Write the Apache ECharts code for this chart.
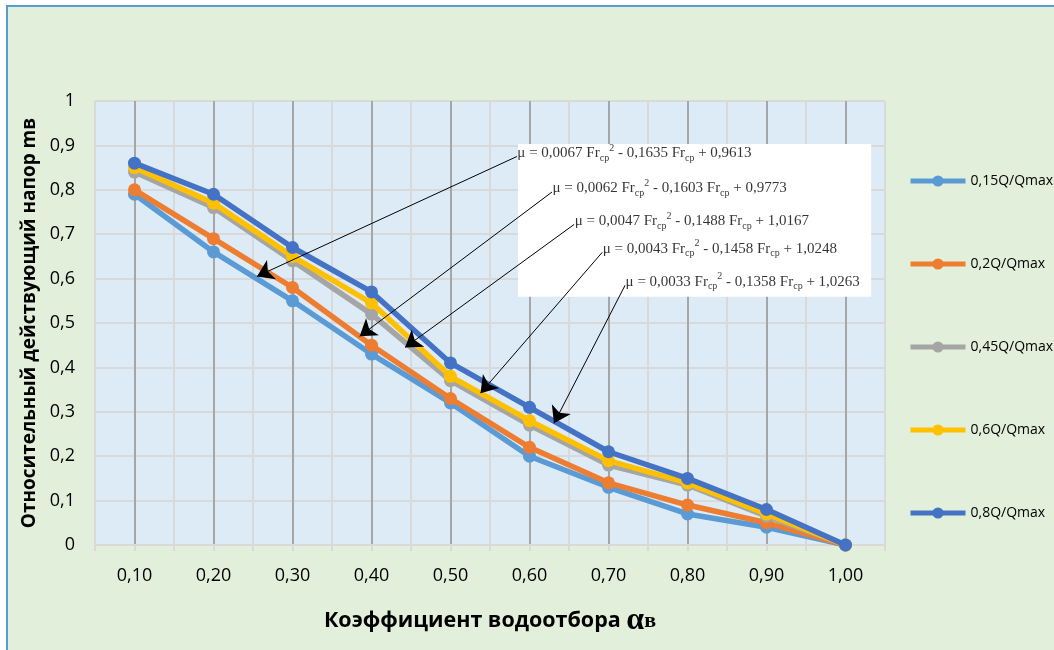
<!DOCTYPE html>
<html>
<head>
<meta charset="utf-8">
<script src="https://cdn.jsdelivr.net/npm/echarts@6/dist/echarts.min.js"></script>
<style>
  html, body { margin: 0; padding: 0; background: #ffffff; }
  #frame { position: absolute; left: 6px; top: 5px; width: 1060px; height: 660px;
           background: #E2EFDA; border-left: 2px solid #5B9BD5; border-top: 2px solid #5B9BD5; }
  #chart { position: absolute; left: 0; top: 0; width: 1054px; height: 650px; }
</style>
</head>
<body>
<div id="frame"></div>
<div id="chart"></div>
<script>
// ---- data ----
const categories = ['0,10', '0,20', '0,30', '0,40', '0,50', '0,60', '0,70', '0,80', '0,90', '1,00'];
const seriesNames = ['0,15Q/Qmax', '0,2Q/Qmax', '0,45Q/Qmax', '0,6Q/Qmax', '0,8Q/Qmax'];
const s015 = [0.79, 0.66, 0.55, 0.43, 0.32, 0.20, 0.13, 0.07, 0.04, 0];
const s02  = [0.80, 0.69, 0.58, 0.45, 0.33, 0.22, 0.14, 0.09, 0.05, 0];
const s045 = [0.84, 0.76, 0.64, 0.52, 0.37, 0.27, 0.18, 0.135, 0.065, 0];
const s06  = [0.85, 0.77, 0.65, 0.545, 0.38, 0.28, 0.19, 0.14, 0.07, 0];
const s08  = [0.86, 0.79, 0.67, 0.57, 0.41, 0.31, 0.21, 0.15, 0.08, 0];
const colors = ['#5B9BD5', '#ED7D31', '#A5A5A5', '#FFC000', '#4472C4'];
const yTicks = ['0', '0,1', '0,2', '0,3', '0,4', '0,5', '0,6', '0,7', '0,8', '0,9', '1'];

// trend-line equations (coefficients as printed)
const eqA = ['0,0067', '0,0062', '0,0047', '0,0043', '0,0033'];
const eqB = ['0,1635', '0,1603', '0,1488', '0,1458', '0,1358'];
const eqC = ['0,9613', '0,9773', '1,0167', '1,0248', '1,0263'];
// annotation anchors on a helper axis (0..20 = half-category units) and value axis
const eqTextPos = [[10.68, 0.883], [11.57, 0.803], [12.13, 0.730], [12.84, 0.667], [13.42, 0.593]];
const arrowTips = [[4.10, 0.605], [6.70, 0.470], [7.85, 0.445], [9.76, 0.342], [11.62, 0.274]];
const eqBox = [[10.71, 0.903], [19.65, 0.559]];

const allSeries = [s015, s02, s045, s06, s08];

const chart = echarts.init(document.getElementById('chart'), null, { renderer: 'canvas' });

const lineSeries = allSeries.map((d, i) => ({
  name: seriesNames[i],
  type: 'line',
  xAxisIndex: 0,
  yAxisIndex: 0,
  data: d,
  symbol: 'circle',
  symbolSize: 13,
  lineStyle: { width: 5.5, color: colors[i] },
  itemStyle: { color: colors[i] },
  z: 3 + i
}));

const eqData = eqTextPos.map((p, i) => ({
  value: p,
  name: String(i)
}));

const option = {
  backgroundColor: 'transparent',
  animation: false,
  grid: {
    left: 95, right: 169, top: 101, bottom: 105,
    show: true, backgroundColor: '#DDEBF7', borderWidth: 0
  },
  legend: {
    data: seriesNames,
    orient: 'vertical',
    left: 903, top: 169,
    itemWidth: 55, itemHeight: 14, itemGap: 69,
    lineStyle: { width: 5 },
    textStyle: { fontFamily: 'Open Sans', fontSize: 14, color: '#000' }
  },
  xAxis: [
    {
      type: 'category',
      data: categories,
      boundaryGap: true,
      axisLine: { show: true, lineStyle: { color: '#D9D9D9', width: 2 } },
      axisTick: { show: false },
      splitLine: { show: false },
      axisLabel: { fontFamily: 'Open Sans', fontSize: 18, color: '#000', margin: 22 },
      name: '{a|Коэффициент водоотбора }{b|α}{c|в}',
      nameLocation: 'middle',
      nameGap: 60,
      nameTextStyle: {
        rich: {
          a: { fontFamily: 'Open Sans', fontWeight: 'bold', fontSize: 21.5, color: '#000' },
          b: { fontFamily: 'Liberation Serif', fontWeight: 'bold', fontSize: 32, color: '#000' },
          c: { fontFamily: 'Liberation Serif', fontWeight: 'bold', fontSize: 22, color: '#000' }
        }
      }
    },
    {
      type: 'value',
      min: 0, max: 20, interval: 1,
      position: 'bottom',
      show: true,
      axisLine: { show: false },
      axisLabel: { show: false },
      axisTick: { show: true, length: 6, lineStyle: { color: '#D9D9D9', width: 2 } },
      splitLine: { show: true, lineStyle: { color: ['#D9D9D9', '#A6A6A6'], width: 2 } }
    }
  ],
  yAxis: {
    type: 'value',
    min: 0, max: 1, interval: 0.1,
    axisLine: { show: false },
    axisTick: { show: false },
    splitLine: { show: true, lineStyle: { color: '#D9D9D9', width: 2 } },
    axisLabel: {
      fontFamily: 'Open Sans', fontSize: 18, color: '#000', margin: 20,
      formatter: (v) => yTicks[Math.round(v * 10)]
    },
    name: 'Относительный действующий напор mв',
    nameLocation: 'middle',
    nameGap: 52,
    nameTextStyle: { fontFamily: 'Open Sans', fontWeight: 'bold', fontSize: 19, color: '#000' }
  },
  series: lineSeries.concat([
    {
      type: 'lines',
      coordinateSystem: 'cartesian2d',
      xAxisIndex: 1, yAxisIndex: 0,
      silent: true,
      z: 11,
      symbol: ['none', 'arrow'],
      symbolSize: [12, 16],
      lineStyle: { color: '#000', width: 1, opacity: 1 },
      data: eqTextPos.map((p, i) => ({ coords: [[p[0], p[1] - 0.008], arrowTips[i]] })),
      markArea: {
        silent: true,
        itemStyle: { color: '#ffffff', opacity: 1 },
        data: [[{ coord: eqBox[0] }, { coord: eqBox[1] }]]
      }
    },
    {
      type: 'scatter',
      name: 'eq',
      xAxisIndex: 1, yAxisIndex: 0,
      symbolSize: 1,
      itemStyle: { color: 'rgba(0,0,0,0)' },
      silent: true,
      z: 12,
      data: eqData,
      label: {
        show: true,
        position: 'right',
        distance: 0,
        formatter: (p) => {
          const i = Number(p.data.name);
          return '{n|μ = ' + eqA[i] + ' Fr}{sub|ср}{sup|2}{n| - ' + eqB[i] + ' Fr}{sub|ср}{n| + ' + eqC[i] + '}';
        },
        rich: {
          n: { fontFamily: 'Liberation Serif', fontSize: 15, color: '#000', lineHeight: 20, verticalAlign: 'middle' },
          sub: { fontFamily: 'Liberation Serif', fontSize: 10, color: '#000', lineHeight: 10, verticalAlign: 'bottom' },
          sup: { fontFamily: 'Liberation Serif', fontSize: 10, color: '#000', lineHeight: 10, verticalAlign: 'top' }
        }
      }
    }
  ])
};

chart.setOption(option);
</script>
</body>
</html>
